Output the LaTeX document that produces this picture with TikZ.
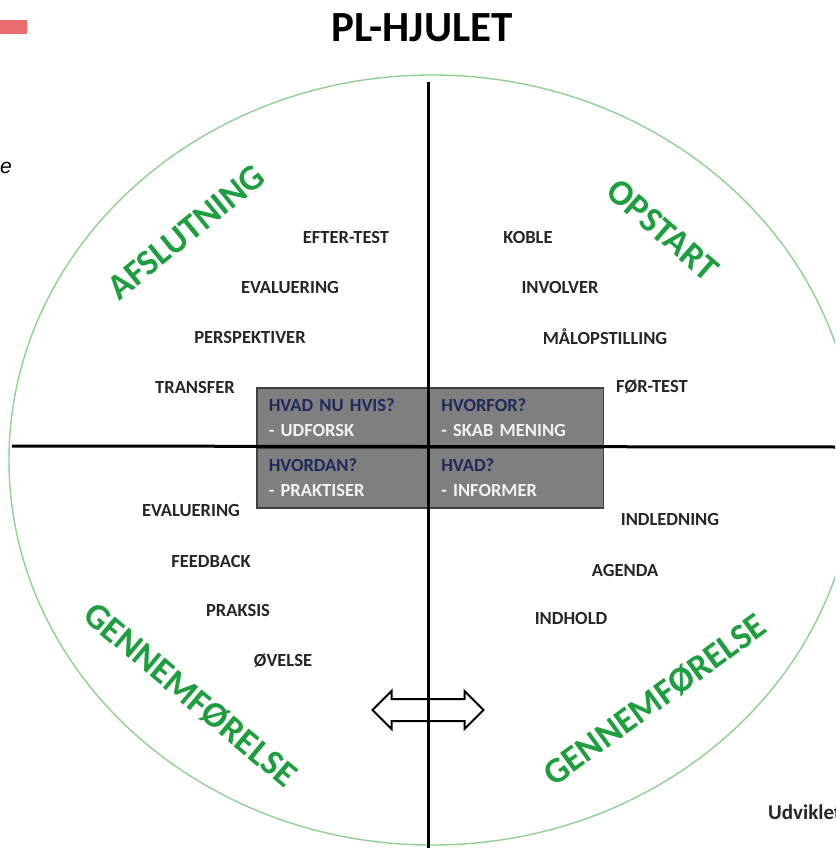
\documentclass[tikz,border=0pt]{standalone}
\usepackage{fontspec}
\setmainfont{Carlito}
\newfontfamily\arialfont{Liberation Sans}
\usetikzlibrary{shapes.arrows}
\definecolor{ringgreen}{HTML}{8FD18F}
\definecolor{phasegreen}{HTML}{1E9E3E}
\definecolor{cellgrey}{HTML}{7F7F7F}
\definecolor{navy}{HTML}{1F2A5C}
\definecolor{offwhite}{HTML}{F2F2F2}
\definecolor{redbar}{HTML}{E96B6B}
\tikzset{
  item/.style={font=\fontsize{18.5}{18.5}\selectfont\bfseries, text=black!85, inner sep=0pt},
  phase/.style={font=\fontsize{36}{36}\selectfont\bfseries, text=phasegreen, inner sep=0pt},
  cell/.style={fill=cellgrey, draw=black!75, line width=1.5pt, anchor=north west,
    minimum width=172.5pt, minimum height=60pt, text width=150pt, inner xsep=12pt,
    align=left, font=\fontsize{18.5}{25}\selectfont\bfseries},
  axis/.style={line width=3pt, black}
}
\begin{document}
\begin{tikzpicture}[x=1pt,y=-1pt]
% 835 x 848 = size of the page, y runs down
\useasboundingbox (0,0) rectangle (835,848);
\clip (0,0) rectangle (835,848);
\fill[redbar] (0,20) rectangle (27,34);
\node[font=\arialfont\fontsize{21}{21}\selectfont\itshape, anchor=west, inner sep=0pt] (cut) at (0,168) {e};
\node[font=\fontsize{43}{43}\selectfont\bfseries, inner sep=0pt] (title) at (422,28) {PL-HJULET};
% the wheel: 432 = centre x, 460 = centre y
\draw[ringgreen, line width=1.4pt] (432,460) ellipse [x radius=423, y radius=385];
% four phases
\node[phase, rotate=39] (afslut) at (186,232) {AFSLUTNING};
\node[phase, rotate=-41] (opstart) at (663,230) {OPSTART};
\node[phase, rotate=-40] (genleft) at (190,695) {GENNEMFØRELSE};
\node[phase, rotate=36] (genright) at (655,700) {GENNEMFØRELSE};
% the items, 50 = row step
\foreach \px/\py/\txt [count=\i] in {
  346/237/EFTER-TEST, 290/287/EVALUERING, 250/337/PERSPEKTIVER, 195/387/TRANSFER,
  528/237/KOBLE, 560/287/INVOLVER, 605/337/MÅLOPSTILLING, 652/387/FØR-TEST,
  191/510/EVALUERING, 211/561/FEEDBACK, 238/610/PRAKSIS, 283/661/ØVELSE,
  670/519/INDLEDNING, 625/570/AGENDA, 571/618/INDHOLD}{
  \node[item] (item\i) at (\px,\py) {\txt};
}
% the grey box, 172.5 = 345/2
\node[cell] (hvadnu) at (256,387) {\textcolor{navy}{HVAD NU HVIS?}\\\textcolor{offwhite}{- UDFORSK}};
\node[cell] (hvorfor) at (428.5,387) {\textcolor{navy}{HVORFOR?}\\\textcolor{offwhite}{- SKAB MENING}};
\node[cell] (hvordan) at (256,447) {\textcolor{navy}{HVORDAN?}\\\textcolor{offwhite}{- PRAKTISER}};
\node[cell] (hvad) at (428.5,447) {\textcolor{navy}{HVAD?}\\\textcolor{offwhite}{- INFORMER}};
\node[double arrow, draw=black, fill=white, line width=2pt, inner sep=0pt, inner ysep=10pt,
  minimum height=111pt, minimum width=36pt, double arrow head extend=8pt] (swap) at (428,710) {};
% axes
\draw[axis] (428,82) coordinate (top) -- (428,850) coordinate (bottom);
\draw[axis] (12,446) coordinate (left) -- (837,447) coordinate (right);
\node[font=\fontsize{21}{21}\selectfont\bfseries, text=black!85, anchor=west, inner sep=0pt] (credit) at (768,812) {Udviklet};
\end{tikzpicture}
\end{document}
